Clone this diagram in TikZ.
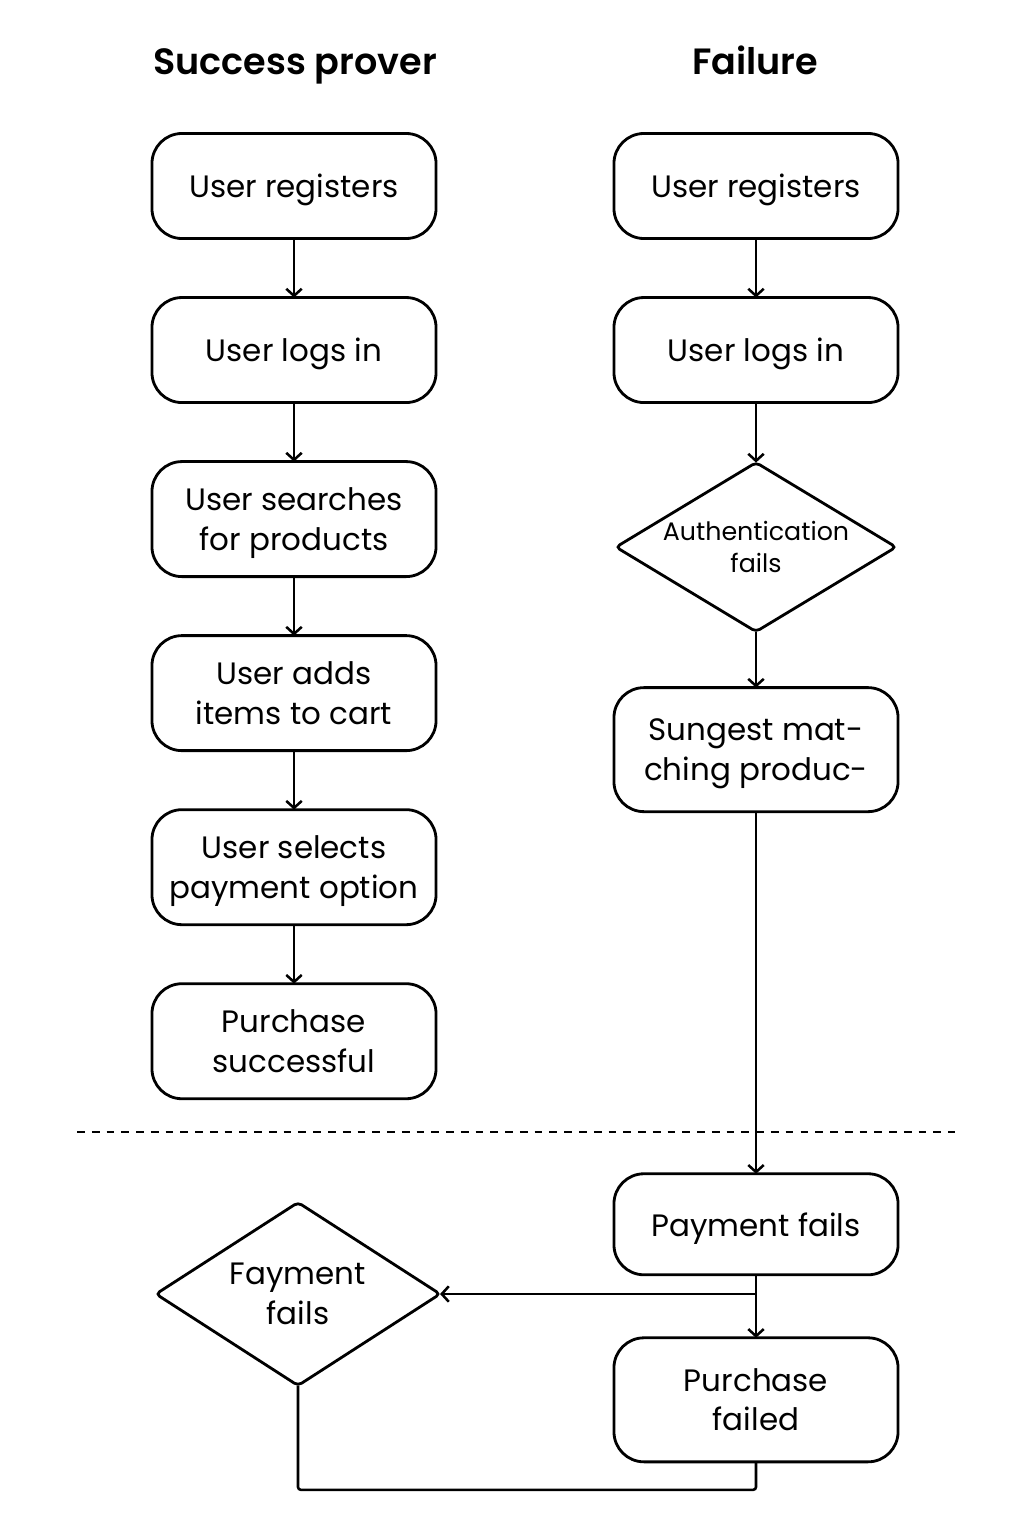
\documentclass[tikz,border=0pt]{standalone}
\usepackage{fontspec}
\setmainfont{Poppins}[BoldFont={Poppins SemiBold}]
\usetikzlibrary{positioning,shapes.geometric,arrows.meta}

\begin{document}
\begin{tikzpicture}[x=0.025cm,y=-0.025cm,
  box/.style={draw, line width=2pt, outer sep=0pt, rounded corners=0.75cm, minimum width=7.1cm, text depth=0pt, align=center, font=\fontsize{22}{28}\selectfont},
  check/.style={draw, diamond, line width=2pt, outer sep=0pt, rounded corners=3pt, inner sep=0pt, align=center},
  title/.style={anchor=base, font=\fontsize{26}{30}\selectfont\bfseries},
  flow/.style={line width=1.8pt, -{Straight Barb[length=5pt,width=11pt,line width=1.8pt]}}]

\useasboundingbox (0,0) rectangle (1024,1536);

% Titles
\node[title] (tsucc) at (295,75) {Success prover};
\node[title] (tfail) at (755,75) {Failure};

% Success column
\node[box, minimum height=2.625cm] (reg)    at (294,186) {User registers};
\node[box, minimum height=2.625cm, below=1.475cm of reg]    (login)  {User logs in};
\node[box, minimum height=2.875cm, below=1.475cm of login]  (search) {User searches\\for products};
\node[box, minimum height=2.875cm, below=1.475cm of search] (cart)   {User adds\\items to cart};
\node[box, minimum height=2.875cm, below=1.475cm of cart]   (pay)    {User selects\\payment option};
\node[box, minimum height=2.875cm, below=1.475cm of pay]    (done)   {Purchase\\successful};

% Failure column
\node[box, minimum height=2.625cm] (freg)   at (756,186) {User registers};
\node[box, minimum height=2.625cm, below=1.475cm of freg]   (flogin) {User logs in};
\node[check, aspect=1.7, minimum width=7cm, minimum height=4.225cm, font=\fontsize{18}{23}\selectfont, below=1.5cm of flogin] (auth) {Authentication\\fails};
\node[box, minimum height=3.1cm, below=1.4cm of auth]       (suggest) {Sungest mat-\\ching produc-};
\node[box, minimum height=2.525cm, below=9.05cm of suggest] (pfails) {Payment fails};
\node[box, minimum height=3.1cm, below=1.575cm of pfails]   (failed) {Purchase\\failed};

\node[check, aspect=1.55, minimum width=7.1cm, minimum height=4.575cm, font=\fontsize{22}{28}\selectfont] (fdec) at (298,1294) {Fayment\\fails};

% Separator
\draw[line width=1.2pt, dash pattern=on 5.5pt off 5pt] (77,1132) -- (955,1132);

% Connect nodes
\draw[flow] (reg) -- (login);
\draw[flow] (login) -- (search);
\draw[flow] (search) -- (cart);
\draw[flow] (cart) -- (pay);
\draw[flow] (pay) -- (done);

\draw[flow] (freg) -- (flogin);
\draw[flow] (flogin) -- (auth);
\draw[flow] (auth) -- (suggest);
\draw[flow] (suggest) -- (pfails);
\draw[flow] (pfails) -- (failed);

\coordinate (split) at (pfails.south |- fdec.east);
\draw[flow] (split) -- (fdec.east);
\path (failed.south) ++(0,28) coordinate (back);
\draw[line width=1.8pt, rounded corners=2pt] (failed.south) -- (back) -| (fdec.south);

\end{tikzpicture}
\end{document}
